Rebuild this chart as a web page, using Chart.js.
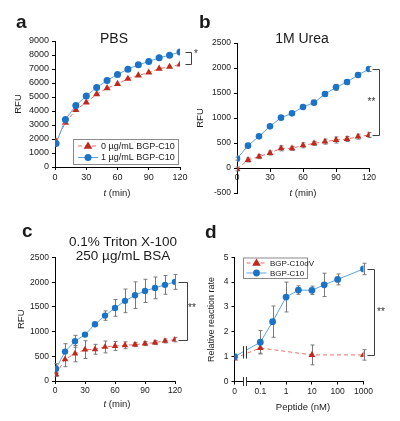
<!DOCTYPE html>
<html>
<head>
<meta charset="utf-8">
<script src="https://cdn.jsdelivr.net/npm/chart.js@4.4.1/dist/chart.umd.min.js"></script>
<style>
  body { margin: 0; background: #fff; }
  #fig { position: relative; width: 400px; height: 421px; overflow: hidden;
         font-family: 'Liberation Sans', Arial, sans-serif; color: #1a1a1a; }
  #fig canvas { position: absolute; }
  .lbl { position: absolute; line-height: 1; white-space: nowrap; }
  .letter { font-weight: bold; font-size: 19px; }
  .ttl { font-size: 14px; text-align: center; }
  .xt { font-size: 9.5px; text-align: center; }
</style>
</head>
<body>
<div id="fig">
  <canvas id="chartA" width="200" height="210" style="left:0;top:0"></canvas>
  <canvas id="chartB" width="210" height="210" style="left:190px;top:0"></canvas>
  <canvas id="chartC" width="200" height="211" style="left:0;top:210px"></canvas>
  <canvas id="chartD" width="210" height="211" style="left:190px;top:210px"></canvas>

  <div class="lbl letter" style="left:16px;top:12px">a</div>
  <div class="lbl letter" style="left:199px;top:12px">b</div>
  <div class="lbl letter" style="left:22px;top:221px">c</div>
  <div class="lbl letter" style="left:205px;top:222px">d</div>

  <div class="lbl ttl" style="left:64px;top:31px;width:100px">PBS</div>
  <div class="lbl ttl" style="left:252px;top:31px;width:100px">1M Urea</div>
  <div class="lbl ttl" style="left:53px;top:235px;width:140px;font-size:13.5px;line-height:14px">0.1% Triton X-100<br>250 µg/mL BSA</div>

  <div class="lbl xt" style="left:77px;top:188px;width:80px"><i>t</i> (min)</div>
  <div class="lbl xt" style="left:263px;top:188px;width:80px"><i>t</i> (min)</div>
  <div class="lbl xt" style="left:77px;top:399px;width:80px"><i>t</i> (min)</div>
  <div class="lbl xt" style="left:253px;top:402px;width:100px">Peptide (nM)</div>
</div>

<script>
// ---- data ----
const timesA = [1, 10, 20, 30, 40, 50, 60, 70, 80, 90, 100, 110, 120];
const pbsCtrl = [1840, 3170, 4080, 4610, 5200, 5630, 5940, 6300, 6540, 6750, 7020, 7160, 7330];
const pbsPep  = [1670, 3390, 4390, 5080, 5680, 6180, 6610, 6990, 7300, 7540, 7800, 7990, 8210];

const timesB = [0, 10, 20, 30, 40, 50, 60, 70, 80, 90, 100, 110, 120];
const ureaCtrl    = [-20, 160, 227, 300, 393, 393, 453, 493, 527, 560, 580, 627, 660];
const ureaCtrlErr = [40, 40, 40, 40, 50, 40, 50, 40, 50, 60, 50, 50, 50];
const ureaPep     = [187, 447, 633, 833, 1007, 1093, 1220, 1307, 1480, 1613, 1720, 1860, 1980];
const ureaPepErr  = [30, 30, 30, 30, 30, 30, 30, 30, 50, 60, 50, 50, 50];

const timesC = [1, 10, 20, 30, 40, 50, 60, 70, 80, 90, 100, 110, 120];
const tritonCtrl    = [135, 440, 554, 635, 642, 689, 709, 723, 736, 757, 777, 811, 838];
const tritonCtrlErr = [40, 150, 165, 180, 100, 120, 90, 70, 40, 40, 40, 40, 45];
const tritonPep     = [250, 595, 804, 939, 1149, 1324, 1480, 1622, 1736, 1824, 1885, 1946, 2007];
const tritonPepErr  = [100, 160, 120, 25, 25, 95, 170, 240, 270, 235, 220, 190, 150];

const peptideConc = [0, 0.1, 0.3, 1, 3, 10, 30, 100, 1000];
const rateC10     = [1.0, 1.58, 2.41, 3.40, 3.68, 3.67, 3.89, 4.11, 4.53];
const rateC10Err  = [0, 0.47, 0.63, 0.6, 0.17, 0.17, 0.47, 0.22, 0.23];
const dvConc      = [0, 0.1, 10, 1000];
const rateDV      = [0.93, 1.35, 1.07, 1.07];
const rateDVErr   = [0, 0.21, 0.4, 0.21];
const concTicks   = [0.01, 0.1, 1, 10, 100, 1000];

const legendA = ['0 µg/mL BGP-C10', '1 µg/mL BGP-C10'];
const legendD = ['BGP-C10dV', 'BGP-C10'];

const FONT = "'Liberation Sans', Arial, sans-serif";
const BLUE = '#1c72c4', BLUE_LINE = '#62a3dc';
const RED = '#c0291d', RED_LINE = '#e5716b';
const BREAK_AT = 0.026;  // stand-in position of the axis break between 0 and 0.1

function marker(ctx, style, x, y, r, color) {
  ctx.fillStyle = color;
  ctx.beginPath();
  if (style === 'triangle') {
    ctx.moveTo(x, y - r);
    ctx.lineTo(x + r * 0.95, y + r * 0.6);
    ctx.lineTo(x - r * 0.95, y + r * 0.6);
    ctx.closePath();
  } else {
    ctx.arc(x, y, r, 0, Math.PI * 2);
  }
  ctx.fill();
}

// error bars, drawn under the markers
const errorBars = {
  id: 'errorBars',
  beforeDatasetsDraw(chart) {
    const ctx = chart.ctx, ys = chart.scales.y;
    ctx.save();
    ctx.strokeStyle = '#7a7a7a';
    ctx.lineWidth = 1;
    chart.data.datasets.forEach((ds, i) => {
      if (!ds.errors) return;
      chart.getDatasetMeta(i).data.forEach((pt, j) => {
        const e = ds.errors[j];
        if (!e) return;
        const v = ds.data[j].y;
        const x = Math.round(pt.x) + 0.5;
        const y1 = ys.getPixelForValue(v + e), y2 = ys.getPixelForValue(v - e);
        ctx.beginPath();
        ctx.moveTo(x, y1); ctx.lineTo(x, y2);
        ctx.moveTo(x - 2, y1); ctx.lineTo(x + 2, y1);
        ctx.moveTo(x - 2, y2); ctx.lineTo(x + 2, y2);
        ctx.stroke();
      });
    });
    ctx.restore();
  }
};

// significance bracket with stars
const bracket = {
  id: 'bracket',
  afterDraw(chart, args, o) {
    if (!o.x) return;
    const ctx = chart.ctx, ys = chart.scales.y;
    const x = Math.round(chart.chartArea.right + o.x) + 0.5;
    const xi = Math.round(chart.chartArea.right + o.inner) + 0.5;
    const y1 = Math.round(ys.getPixelForValue(o.top)) + 0.5;
    const y2 = Math.round(ys.getPixelForValue(o.bottom)) + 0.5;
    ctx.save();
    ctx.strokeStyle = '#404040';
    ctx.lineWidth = 1;
    ctx.beginPath();
    ctx.moveTo(xi, y1); ctx.lineTo(x, y1); ctx.lineTo(x, y2); ctx.lineTo(xi, y2);
    ctx.stroke();
    ctx.fillStyle = '#333';
    ctx.font = o.size + 'px ' + FONT;
    ctx.textAlign = 'center';
    ctx.textBaseline = 'middle';
    ctx.fillText(o.text, chart.chartArea.right + o.textX, (y1 + y2) / 2 + o.textDy);
    ctx.restore();
  }
};

// boxed legend with line + marker samples
const boxLegend = {
  id: 'boxLegend',
  afterDraw(chart, args, o) {
    if (!o.items) return;
    const ctx = chart.ctx;
    ctx.save();
    ctx.strokeStyle = '#8a8a8a';
    ctx.lineWidth = 1;
    ctx.strokeRect(o.x + 0.5, o.y + 0.5, o.w, o.h);
    ctx.font = o.size + 'px ' + FONT;
    ctx.textBaseline = 'middle';
    o.items.forEach((it, i) => {
      const ds = chart.data.datasets[it.dataset];
      const y = o.y + o.row0 + i * o.rowH;
      ctx.strokeStyle = ds.borderColor;
      ctx.setLineDash(ds.borderDash || []);
      ctx.beginPath();
      ctx.moveTo(o.x + o.l0, y); ctx.lineTo(o.x + o.l1, y);
      ctx.stroke();
      ctx.setLineDash([]);
      marker(ctx, ds.pointStyle, o.x + (o.l0 + o.l1) / 2, y, ds.pointRadius + (ds.pointStyle === 'triangle' ? 0.5 : 0), ds.pointBackgroundColor);
      ctx.fillStyle = '#1a1a1a';
      ctx.fillText(it.text, o.x + o.textX, y + 0.5);
    });
    ctx.restore();
  }
};

// "||" axis break marks for panel d
const axisBreak = {
  id: 'axisBreak',
  afterDraw(chart, args, o) {
    if (!o.on) return;
    const ctx = chart.ctx, xs = chart.scales.x;
    const x = xs.getPixelForValue(BREAK_AT);
    const marks = [chart.chartArea.bottom];
    chart.data.datasets.forEach((ds, i) => {
      const d = chart.getDatasetMeta(i).data;
      const f = (x - d[0].x) / (d[1].x - d[0].x);
      marks.push(d[0].y + f * (d[1].y - d[0].y));
    });
    ctx.save();
    marks.forEach(y => {
      ctx.fillStyle = '#fff';
      ctx.fillRect(x - 1.5, y - 4, 3, 8);
      ctx.strokeStyle = '#333';
      ctx.lineWidth = 1;
      ctx.beginPath();
      ctx.moveTo(Math.round(x - 2) + 0.5, y - 4.5); ctx.lineTo(Math.round(x - 2) + 0.5, y + 4.5);
      ctx.moveTo(Math.round(x + 1) + 0.5, y - 4.5); ctx.lineTo(Math.round(x + 1) + 0.5, y + 4.5);
      ctx.stroke();
    });
    ctx.restore();
  }
};

Chart.defaults.font.family = FONT;
Chart.defaults.color = '#1a1a1a';

const plain = v => String(v);

function yAxis(o) {
  return {
    min: o.min, max: o.max,
    ticks: { stepSize: o.step, font: { size: o.tick }, padding: 3, callback: plain },
    grid: { drawOnChartArea: false, tickLength: 3, tickColor: '#000' },
    border: { color: '#000' },
    title: { display: true, text: o.title, font: { size: o.titleSize || 9.5 }, padding: { top: o.titlePad, bottom: 0 } },
    afterFit: s => { s.width = o.width; }
  };
}

function xTime(o) {
  return {
    type: 'linear', min: 0, max: 120, position: o.position || 'bottom',
    ticks: { stepSize: 30, font: { size: o.tick }, padding: 2, maxRotation: 0, callback: plain },
    grid: { drawOnChartArea: false, tickLength: 3, tickColor: '#000' },
    border: { color: '#000' },
    afterFit: s => { s.height = o.height; }
  };
}

function pts(xs, ys) { return xs.map((x, i) => ({ x: x, y: ys[i] })); }

function series(label, data, kind, radius, errors) {
  const blue = kind === 'pep';
  return {
    label: label, data: data, errors: errors,
    borderColor: blue ? BLUE_LINE : RED_LINE,
    borderWidth: 1,
    borderDash: blue ? [] : [4, 3],
    pointStyle: blue ? 'circle' : 'triangle',
    pointRadius: blue ? radius : radius + 0.6,
    pointBorderWidth: 0,
    pointBackgroundColor: blue ? BLUE : RED,
    pointBorderColor: blue ? BLUE : RED,
    tension: 0
  };
}

function build(id, cfg) {
  return new Chart(document.getElementById(id), {
    type: 'line',
    data: { datasets: cfg.datasets },
    options: {
      responsive: false, animation: false,
      layout: { padding: cfg.padding },
      scales: cfg.scales,
      plugins: {
        legend: { display: false }, tooltip: { enabled: false },
        bracket: cfg.bracket || {}, boxLegend: cfg.legend || {}, axisBreak: cfg.axisBreak || {}
      }
    },
    plugins: [errorBars, bracket, boxLegend, axisBreak]
  });
}

// a: PBS
build('chartA', {
  padding: { left: 0, right: 20, top: 41, bottom: 0 },
  datasets: [
    series(legendA[1], pts(timesA, pbsPep), 'pep', 3.5),
    series(legendA[0], pts(timesA, pbsCtrl), 'ctrl', 3.5)
  ],
  scales: {
    x: xTime({ tick: 9, height: 43 }),
    y: yAxis({ min: 0, max: 9000, step: 1000, tick: 9, title: 'RFU', titlePad: 13, width: 55 })
  },
  bracket: { top: pbsPep[12], bottom: pbsCtrl[12], x: 11, inner: 5, text: '*', size: 10, textX: 16, textDy: -4 },
  legend: { x: 73, y: 139, w: 105, h: 25, row0: 7, rowH: 11.5, l0: 5, l1: 25, textX: 28, size: 9,
            items: [{ dataset: 1, text: legendA[0] }, { dataset: 0, text: legendA[1] }] }
});

// b: 1M urea
build('chartB', {
  padding: { left: 0, right: 31, top: 43, bottom: 17 },
  datasets: [
    series('pep', pts(timesB, ureaPep), 'pep', 3.3, ureaPepErr),
    series('ctrl', pts(timesB, ureaCtrl), 'ctrl', 3.3, ureaCtrlErr)
  ],
  scales: {
    x: xTime({ tick: 8.5, height: 0, position: { y: 0 } }),
    y: yAxis({ min: -500, max: 2500, step: 500, tick: 8.5, title: 'RFU', titlePad: 4.5, width: 47 })
  },
  bracket: { top: ureaPep[12], bottom: ureaCtrl[12], x: 10, inner: 2.5, text: '**', size: 10, textX: 2.5, textDy: 0 }
});

// c: Triton + BSA
build('chartC', {
  padding: { left: 0, right: 25, top: 47.5, bottom: 0 },
  datasets: [
    series('pep', pts(timesC, tritonPep), 'pep', 3.2, tritonPepErr),
    series('ctrl', pts(timesC, tritonCtrl), 'ctrl', 3.2, tritonCtrlErr)
  ],
  scales: {
    x: xTime({ tick: 8.5, height: 40 }),
    y: yAxis({ min: 0, max: 2500, step: 500, tick: 8.5, title: 'RFU', titlePad: 16, width: 55 })
  },
  bracket: { top: tritonPep[12], bottom: tritonCtrl[12], x: 11.5, inner: 3, text: '**', size: 10, textX: 17, textDy: -3 }
});

// d: dose response (0 drawn at one decade below 0.1, behind the axis break)
const atLog = c => c === 0 ? concTicks[0] : c;
build('chartD', {
  padding: { left: 0, right: 36.5, top: 47.3, bottom: 0 },
  datasets: [
    series(legendD[1], peptideConc.map((c, i) => ({ x: atLog(c), y: rateC10[i] })), 'pep', 3.4, rateC10Err),
    series(legendD[0], dvConc.map((c, i) => ({ x: atLog(c), y: rateDV[i] })), 'ctrl', 3.4, rateDVErr)
  ],
  scales: {
    x: {
      type: 'logarithmic', min: concTicks[0], max: concTicks[concTicks.length - 1],
      afterBuildTicks: s => { s.ticks = concTicks.map(v => ({ value: v })); },
      ticks: { font: { size: 8.5 }, padding: 2, maxRotation: 0, autoSkip: false,
               callback: v => v === concTicks[0] ? '0' : String(v) },
      grid: { drawOnChartArea: false, tickLength: 3, tickColor: '#000' },
      border: { color: '#000' },
      afterFit: s => { s.height = 39.5; }
    },
    y: yAxis({ min: 0, max: 5, step: 1, tick: 8.5, title: 'Relative reaction rate', titleSize: 9, titlePad: 16, width: 44.5 })
  },
  bracket: { top: rateC10[8], bottom: rateDV[3], x: 10, inner: 3.5, text: '**', size: 10, textX: 17.5, textDy: 0 },
  legend: { x: 53, y: 47.5, w: 64, h: 20.5, row0: 5.5, rowH: 10, l0: 3.5, l1: 23.5, textX: 27, size: 8,
            items: [{ dataset: 1, text: legendD[0] }, { dataset: 0, text: legendD[1] }] },
  axisBreak: { on: true }
});
</script>
</body>
</html>
